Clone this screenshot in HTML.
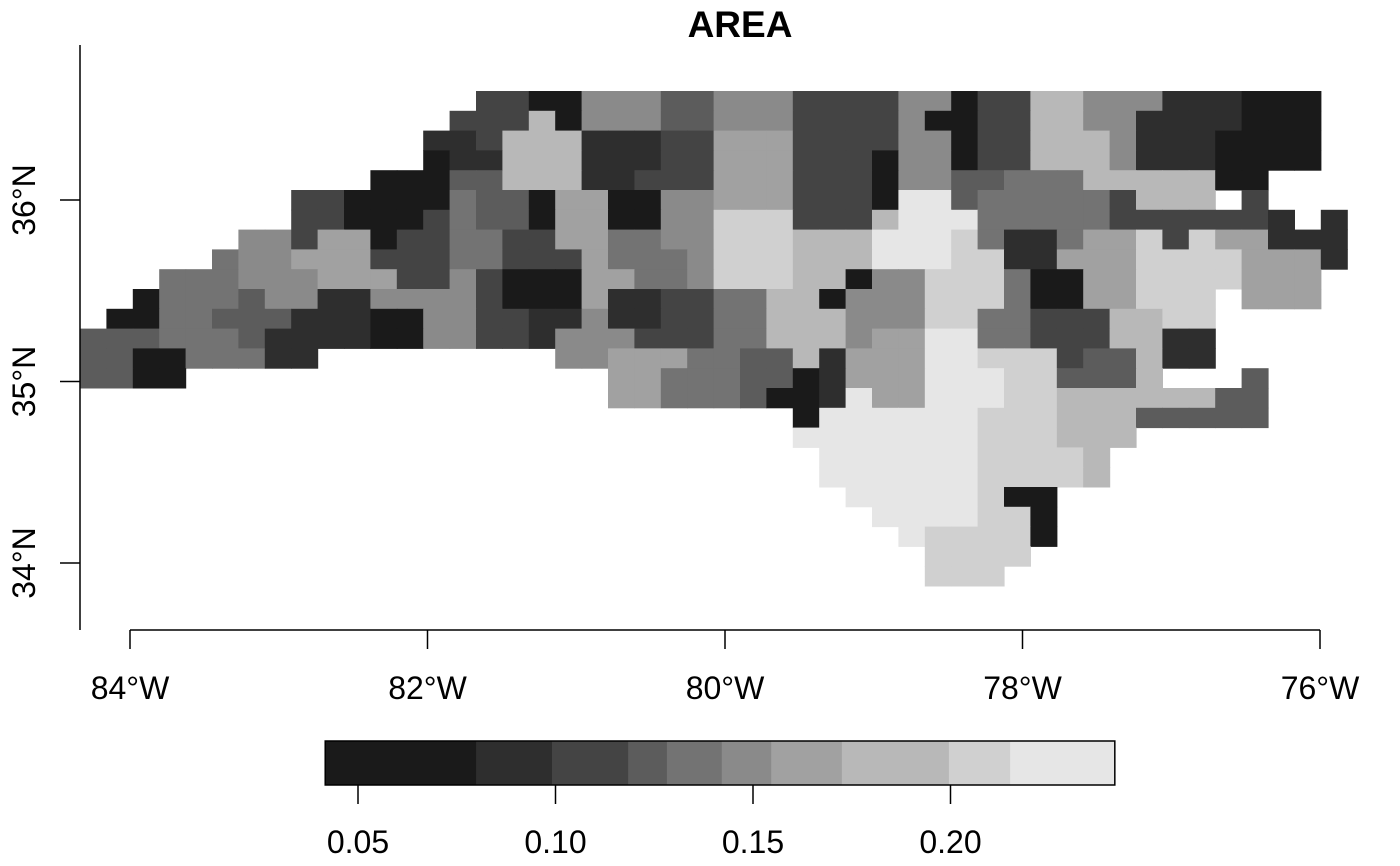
<!DOCTYPE html>
<html><head><meta charset="utf-8"><style>
html,body{margin:0;padding:0;background:#fff;}
svg{display:block;font-family:"Liberation Sans",Arial,sans-serif;}
</style></head><body>
<svg id="chart" width="1400" height="866" viewBox="0 0 1400 866">
<text x="740" y="37" text-anchor="middle" font-size="37" font-weight="bold">AREA</text>
<g id="map"></g>
<g id="axes"></g>
<g id="legend"></g>
</svg>
<script>
const D = n => ".".repeat(n);
const gridRows = [
D(15)+"2200555335552222"+"5502277555111000"+"...",
D(14)+"2227055533555222"+"2500227755111100"+"0...",
D(13)+"1127771112266622"+"2255022777511100"+"00...",
D(13)+"0117771112266622"+"2055022777511100"+"00...",
D(11)+"0003377711222666"+"2220553344477777"+"00.....",
D(8)+"2200004330660055"+"6662220993444442"+"777.2.....",
D(8)+"2200024330660055"+"8882227999444442"+"222221.1..",
D(6)+"5526602244226644"+"5588877799984114"+"6682866111..",
D(5)+"4556662224422264"+"4458887779998811"+"66688886661..",
D(3)+"4445556662252000"+"6644588877055888"+"400668888666...",
D(2)+"0444355115555200"+"0611224477055588"+"840066888.666...",
D(1)+"0044333111005522"+"1151122447775558"+"8442227788"+D(7),
"3334443111100552"+"2155522244777566"+"99442227711"+D(7),
"330044411"+D(9)+"5566644337166699888233711"+D(7),
"3300"+D(16)+"664443301666999883337"+"...3.....",
D(20)+"6644430019669998877777733"+D(5),
D(27)+"099999988877733333"+D(5),
D(27)+"9999999888777"+D(10),
D(28)+"99999988887"+D(11),
D(28)+"99999988887"+D(11),
D(29)+"99999800"+D(13),
D(30)+"9999880"+D(13),
D(31)+"988880"+D(13),
D(32)+"8888"+D(14),
D(32)+"888"+D(15)
];
const levelColors = ["#1a1a1a","#2e2e2e","#444444","#5c5c5c","#737373","#8a8a8a","#a1a1a1","#b8b8b8","#d0d0d0","#e6e6e6"];
const legendBreaks = [0.0417,0.0799,0.0991,0.1184,0.1282,0.1421,0.1546,0.1725,0.1996,0.2151,0.2416];
const legendTicks = [0.05,0.10,0.15,0.20];
const lonTicks = [-84,-82,-80,-78,-76];
const latTicks = [36,35,34];

const NS="http://www.w3.org/2000/svg";
function mk(tag,attrs,parent){const e=document.createElementNS(NS,tag);for(const k in attrs)e.setAttribute(k,attrs[k]);parent.appendChild(e);return e;}
const xLon = lon => 130 + (lon+84)*148.75;
const yLat = lat => 200 - (lat-36)*181.5;
const colX = c => 80 + c*26.4;
const rowY = r => 91 + r*19.8;
const legX = v => 358 + (v-0.05)*3950;

const map=document.getElementById('map');
gridRows.forEach((row,r)=>{
  for(let c=0;c<50;c++){
    const ch=row[c];
    if(ch===undefined||ch<'0'||ch>'9')continue;
    const rc=mk('rect',{x:colX(c).toFixed(2),y:rowY(r).toFixed(2),width:27,height:20.3,fill:levelColors[+ch]},map);
    
    
  }
});

const axes=document.getElementById('axes');
const ya=mk('line',{x1:80,y1:45,x2:80,y2:630,stroke:'#000','stroke-width':1.5},axes);


latTicks.forEach(lat=>{
  const y=yLat(lat);
  const t=mk('line',{x1:60,y1:y,x2:80,y2:y,stroke:'#000','stroke-width':1.5},axes);
  
  
  const l=mk('text',{x:0,y:0,'font-size':32,'text-anchor':'middle',transform:`translate(35,${y}) rotate(-90)`},axes);
  l.textContent=lat+'°N';
  
  
});
const xa=mk('line',{x1:xLon(-84),y1:630,x2:xLon(-76),y2:630,stroke:'#000','stroke-width':1.5},axes);


lonTicks.forEach(lon=>{
  const x=xLon(lon);
  const t=mk('line',{x1:x,y1:630,x2:x,y2:649,stroke:'#000','stroke-width':1.5},axes);
  
  
  const l=mk('text',{x:x,y:699,'font-size':32,'text-anchor':'middle'},axes);
  l.textContent=Math.abs(lon)+'°W';
  
  
});

const leg=document.getElementById('legend');
for(let i=0;i<levelColors.length;i++){
  const x0=legX(legendBreaks[i]),x1=legX(legendBreaks[i+1]);
  const rc=mk('rect',{x:x0,y:741,width:x1-x0+0.5,height:44,fill:levelColors[i]},leg);
  
  
}
const bd=mk('rect',{x:legX(legendBreaks[0]),y:741,width:legX(legendBreaks[10])-legX(legendBreaks[0]),height:44,fill:'none',stroke:'#000','stroke-width':1.5},leg);


legendTicks.forEach(v=>{
  const x=legX(v);
  const t=mk('line',{x1:x,y1:785,x2:x,y2:804,stroke:'#000','stroke-width':1.5},leg);
  
  
  const l=mk('text',{x:x,y:853,'font-size':32,'text-anchor':'middle'},leg);
  l.textContent=v.toFixed(2);
  
  
});
</script>
</body></html>
